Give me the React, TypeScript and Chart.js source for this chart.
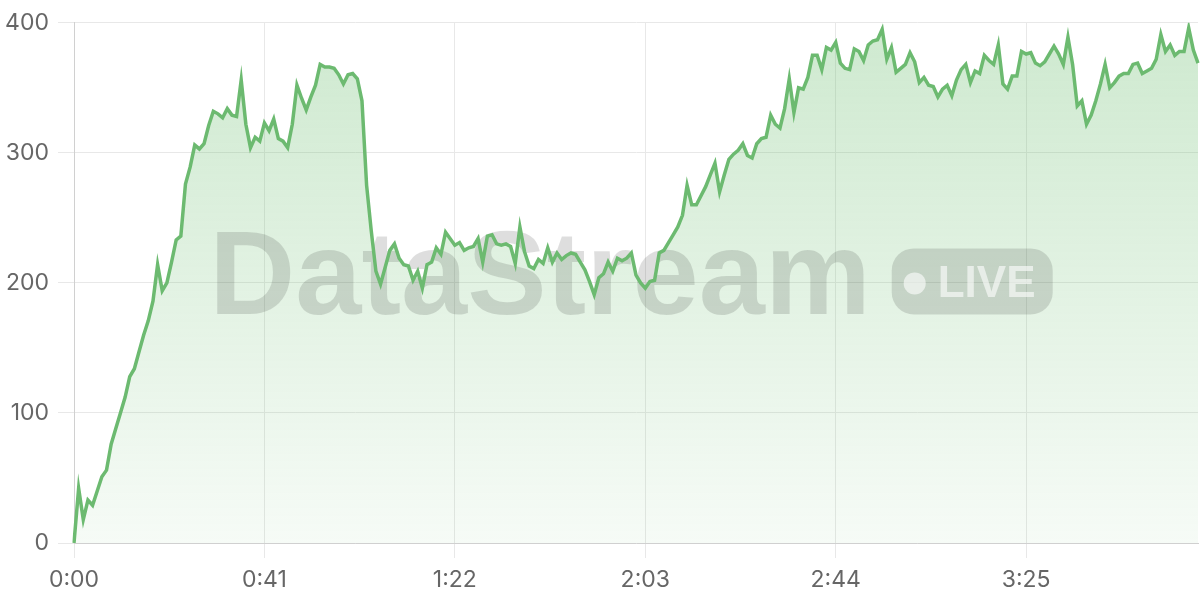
import React, { useEffect, useRef } from "react";
import { Chart, registerables } from "chart.js";

Chart.register(...registerables);

// Series values, one per second (0:00 .. 4:02)
const VALUES: number[] = [
  0, 42, 18, 33, 29, 40, 51, 56, 76, 88,
  100, 112, 128, 134, 147, 160, 171, 186, 214, 194,
  200, 216, 233, 236, 276, 289, 306, 303, 307, 321,
  332, 330, 327, 334, 329, 328, 356, 322, 304, 312,
  309, 323, 317, 326, 311, 309, 304, 322, 352, 342,
  333, 343, 352, 368, 366, 366, 365, 360, 353, 360,
  361, 357, 340, 275, 240, 209, 199, 212, 225, 230,
  219, 214, 213, 202, 209, 196, 214, 216, 227, 222,
  239, 234, 229, 231, 225, 227, 228, 234, 216, 236,
  237, 230, 229, 230, 228, 215, 243, 224, 213, 211,
  218, 215, 227, 216, 223, 218, 221, 223, 222, 216,
  210, 201, 191, 204, 207, 216, 209, 219, 217, 219,
  223, 206, 200, 196, 201, 202, 223, 225, 231, 237,
  243, 252, 275, 260, 260, 267, 274, 283, 292, 270,
  283, 295, 299, 302, 307, 298, 296, 307, 311, 312,
  329, 322, 319, 334, 357, 331, 350, 349, 358, 375,
  375, 364, 381, 379, 385, 369, 365, 364, 380, 378,
  371, 383, 386, 387, 395, 372, 381, 362, 365, 368,
  377, 370, 354, 358, 352, 351, 343, 349, 352, 344,
  356, 364, 368, 354, 363, 361, 375, 371, 368, 383,
  353, 349, 359, 359, 378, 376, 377, 369, 367, 370,
  376, 382, 376, 368, 389, 368, 336, 340, 322, 329,
  340, 353, 368, 350, 354, 359, 361, 361, 368, 369,
  361, 363, 365, 372, 391, 378, 383, 375, 378, 378,
  396, 379, 369,
];

// Category labels (m:ss) for each sample
const TIME_LABELS: string[] = VALUES.map(
  (_, i) => `${Math.floor(i / 60)}:${String(i % 60).padStart(2, "0")}`
);
const LABEL_EVERY = 41;
const Y_MIN = 0;
const Y_MAX = 400;
const Y_STEP = 100;
const WATERMARK_TEXT = "DataStream";
const BADGE_TEXT = "LIVE";

const LINE_COLOR = "#6cba70";
const TICK_FONT = { family: "Inter", size: 23 };

const watermarkPlugin = {
  id: "watermark",
  beforeDatasetsDraw(chart: any) {
    const { ctx, chartArea } = chart;
    if (!chartArea) return;
    const cx = (chartArea.left + chartArea.right) / 2 - 5;
    const baseline = (chartArea.top + chartArea.bottom) / 2 + 31.5;
    ctx.save();
    ctx.font = 'bold 119px "Liberation Sans"';
    ctx.textAlign = "left";
    ctx.textBaseline = "alphabetic";
    const tw = ctx.measureText(WATERMARK_TEXT).width;
    const badgeW = 161;
    const badgeH = 66;
    const gap = 21;
    const total = tw + gap + badgeW;
    const x0 = cx - total / 2;
    ctx.fillStyle = "rgba(0,0,0,0.13)";
    ctx.fillText(WATERMARK_TEXT, x0, baseline);
    const bx = x0 + tw + gap;
    const by = baseline - badgeH;
    ctx.beginPath();
    ctx.roundRect(bx, by, badgeW, badgeH, 22);
    ctx.fill();
    ctx.fillStyle = "rgba(255,255,255,0.6)";
    ctx.beginPath();
    ctx.arc(bx + 23, by + 35, 11, 0, Math.PI * 2);
    ctx.fill();
    ctx.font = 'bold 44px "Liberation Sans"';
    ctx.fillText(BADGE_TEXT, bx + 46, by + 49);
    ctx.restore();
  },
};

export default function App() {
  const canvasRef = useRef<HTMLCanvasElement | null>(null);

  useEffect(() => {
    document.body.style.margin = "0";
    const canvas = canvasRef.current;
    if (!canvas) return;
    const chart = new Chart(canvas, {
      type: "line",
      data: {
        labels: TIME_LABELS,
        datasets: [
          {
            data: VALUES,
            borderColor: LINE_COLOR,
            borderWidth: 3.5,
            pointRadius: 0,
            pointHoverRadius: 0,
            tension: 0,
            fill: "origin",
            backgroundColor: (c: any) => {
              const { ctx, chartArea } = c.chart;
              if (!chartArea) return "rgba(102,187,106,0.2)";
              const g = ctx.createLinearGradient(0, chartArea.top, 0, chartArea.bottom);
              g.addColorStop(0, "rgba(102,187,106,0.32)");
              g.addColorStop(1, "rgba(102,187,106,0.06)");
              return g;
            },
          },
        ],
      },
      options: {
        animation: false,
        responsive: true,
        maintainAspectRatio: false,
        layout: { padding: { top: 20, right: 2, left: 0, bottom: 0 } },
        plugins: {
          legend: { display: false },
          tooltip: { enabled: false },
          filler: { drawTime: "beforeDatasetsDraw" } as any,
        },
        scales: {
          x: {
            type: "category",
            grid: { color: "#e8e8e8", tickLength: 15, drawTicks: true },
            border: { color: "#d0d0d0" },
            ticks: {
              autoSkip: false,
              maxRotation: 0,
              minRotation: 0,
              padding: 8,
              color: "#666",
              font: TICK_FONT,
              callback: (_v: any, i: number) =>
                i % LABEL_EVERY === 0 ? TIME_LABELS[i] : null,
            },
            afterFit: (s: any) => {
              s.height = 57;
            },
          },
          y: {
            min: Y_MIN,
            max: Y_MAX,
            grid: { color: "#e8e8e8", tickLength: 16 },
            border: { color: "#d0d0d0" },
            ticks: {
              stepSize: Y_STEP,
              padding: 9,
              color: "#666",
              font: TICK_FONT,
            },
            afterFit: (s: any) => {
              s.width = 74;
            },
          },
        },
      },
      plugins: [watermarkPlugin],
    });
    return () => chart.destroy();
  }, []);

  return (
    <div style={{ position: "relative", width: 1200, height: 600 }}>
      <canvas ref={canvasRef} />
    </div>
  );
}
